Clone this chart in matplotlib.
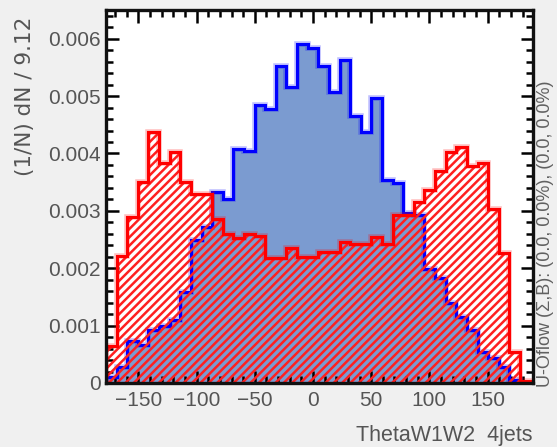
import numpy as np
import matplotlib
matplotlib.use("Agg")
import matplotlib.pyplot as plt
from matplotlib.ticker import MultipleLocator

plt.rcParams['font.family'] = ['Liberation Sans', 'DejaVu Sans']
plt.rcParams['hatch.linewidth'] = 1.8

# 40 bins of width 9.12, starting at -177.84
bin_width = 9.12
x_start = -177.84
n_bins = 40

# (1/N) dN / 9.12 (units of 1e-3)
blue_vals = [0.10, 0.28, 0.73, 0.66, 0.92, 1.00, 1.10, 1.59, 2.50, 2.72,
             3.32, 3.20, 4.07, 4.05, 4.85, 4.78, 5.53, 5.15, 5.90, 5.84,
             5.52, 5.07, 5.63, 4.66, 4.37, 4.97, 3.53, 3.48, 2.96, 2.92,
             1.98, 1.83, 1.39, 1.15, 0.92, 0.54, 0.43, 0.28, 0.05, 0.00]
red_vals = [0.64, 2.22, 2.89, 3.50, 4.37, 3.83, 4.02, 3.50, 3.30, 3.30,
            2.85, 2.60, 2.53, 2.60, 2.57, 2.17, 2.17, 2.35, 2.20, 2.20,
            2.28, 2.28, 2.46, 2.43, 2.43, 2.54, 2.43, 2.92, 2.92, 3.15,
            3.36, 3.70, 4.02, 4.11, 3.79, 3.83, 3.04, 2.26, 0.54, 0.04]

edges = x_start + bin_width * np.arange(n_bins + 1)
blue = np.array(blue_vals) * 1e-3
red = np.array(red_vals) * 1e-3

fig = plt.figure(figsize=(5.57, 4.47), dpi=100, facecolor='#f0f0f0')
ax = fig.add_axes([106 / 557, 1 - 383 / 447, (533 - 106) / 557, (383 - 10) / 447])
ax.set_facecolor('white')

# blue filled histogram
ax.stairs(blue, edges, fill=True, color='#7b9bd0', zorder=1)
ax.stairs(blue, edges, color='#0000ff', linewidth=4, alpha=0.25, zorder=2)
ax.stairs(blue, edges, color='#0000ff', linewidth=2.2, zorder=3)

# red hatched histogram on top
ax.stairs(red, edges, fill=True, facecolor='none', edgecolor='#ff2020',
          hatch='////', linewidth=0, zorder=4)
ax.stairs(red, edges, color='#ff0000', linewidth=4, alpha=0.25, zorder=5)
ax.stairs(red, edges, color='#ff0000', linewidth=2.2, zorder=6)

ax.set_xlim(x_start, 189)
ax.set_ylim(0, 0.0065)

ax.xaxis.set_major_locator(MultipleLocator(50))
ax.xaxis.set_minor_locator(MultipleLocator(10))
ax.yaxis.set_minor_locator(MultipleLocator(0.0002))
ax.set_yticks([0, 0.001, 0.002, 0.003, 0.004, 0.005, 0.006])
ax.set_yticklabels(['0', '0.001', '0.002', '0.003', '0.004', '0.005', '0.006'])

ax.tick_params(which='both', direction='in', top=True, right=True,
               labelcolor='#555555', labelsize=15, width=1.8, color='black')
ax.tick_params(which='major', length=9)
ax.tick_params(which='minor', length=5)
ax.tick_params(axis='y', pad=4)
ax.tick_params(axis='x', pad=6)

for s in ax.spines.values():
    s.set_linewidth(2.4)
    s.set_color('#111111')
    s.set_zorder(10)

fig.text(25 / 557, 1 - 17 / 447, '(1/N) dN / 9.12', rotation=90,
         ha='center', va='top', fontsize=15.5, color='#555555',
         family=['DejaVu Sans'])
fig.text(532 / 557, 1 - 435 / 447, 'ThetaW1W2  4jets', ha='right',
         va='center', fontsize=15.5, color='#555555')
fig.text(546 / 557, 1 - 387 / 447, 'U-Oflow (\u03a3,B): (0.0, 0.0%), (0.0, 0.0%)',
         rotation=90, ha='center', va='bottom', fontsize=13, color='#606060')

fig.savefig('out.png', dpi=100, facecolor=fig.get_facecolor())
